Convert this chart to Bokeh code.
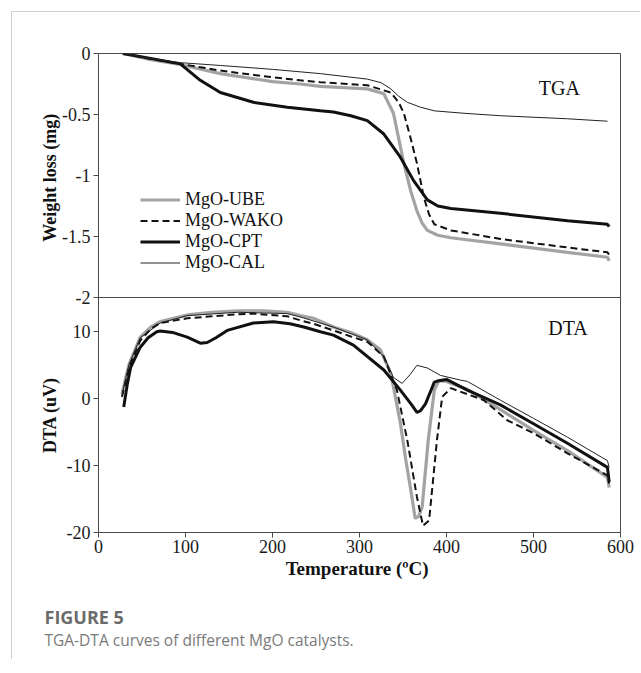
from bokeh.plotting import figure
from bokeh.models import Range1d, FixedTicker, Legend, LegendItem, Label, LinearAxis
from bokeh.layouts import column
from bokeh.embed import file_html
from bokeh.resources import INLINE

# ---------------- data ----------------
series_names = ["MgO-UBE", "MgO-WAKO", "MgO-CPT", "MgO-CAL"]

# TGA (weight loss, mg) vs temperature (C)
tga_ube_t = [28, 60, 94, 140, 200, 232, 255, 309, 328, 339, 351, 359, 366, 372, 378, 390, 405, 462, 539, 585, 587]
tga_ube_w = [0, -0.05, -0.09, -0.165, -0.23, -0.25, -0.27, -0.29, -0.33, -0.49, -0.90, -1.13, -1.29, -1.39, -1.45, -1.49, -1.51, -1.56, -1.63, -1.67, -1.70]

tga_wako_t = [28, 60, 94, 140, 200, 232, 255, 309, 336, 345, 351, 359, 366, 374, 380, 386, 405, 462, 539, 585, 587]
tga_wako_w = [0, -0.045, -0.085, -0.14, -0.195, -0.22, -0.235, -0.26, -0.32, -0.40, -0.49, -0.70, -0.90, -1.18, -1.32, -1.40, -1.45, -1.52, -1.59, -1.63, -1.65]

tga_cpt_t = [28, 60, 94, 117, 140, 178, 217, 255, 270, 290, 309, 328, 347, 362, 378, 390, 405, 462, 539, 585, 587]
tga_cpt_w = [0, -0.04, -0.085, -0.22, -0.32, -0.40, -0.44, -0.47, -0.48, -0.51, -0.55, -0.66, -0.85, -1.04, -1.20, -1.25, -1.27, -1.31, -1.37, -1.40, -1.42]

tga_cal_t = [28, 60, 94, 140, 200, 255, 309, 325, 336, 345, 355, 370, 386, 420, 462, 539, 585]
tga_cal_w = [0, -0.04, -0.075, -0.098, -0.13, -0.165, -0.21, -0.24, -0.29, -0.35, -0.40, -0.44, -0.47, -0.49, -0.51, -0.535, -0.555]

# DTA (uV) vs temperature (C)
dta_ube_t = [27, 35, 48, 60, 71, 102, 130, 160, 190, 217, 232, 247, 270, 290, 309, 324, 336, 347, 353, 359, 364, 368, 372, 379, 386, 391, 400, 424, 462, 500, 539, 585, 587]
dta_ube_v = [0.7, 5.0, 9.1, 10.6, 11.4, 12.4, 12.8, 13.0, 13.0, 12.8, 12.3, 11.9, 10.6, 9.8, 8.7, 7.2, 3.7, -3.7, -9.0, -13.7, -17.9, -17.6, -16.2, -6.3, 1.2, 2.6, 2.5, 1.3, -1.7, -4.8, -7.8, -11.8, -13.3]

dta_wako_t = [27, 35, 48, 60, 71, 102, 130, 160, 178, 217, 232, 247, 270, 290, 309, 328, 343, 355, 366, 373, 380, 389, 395, 405, 443, 470, 500, 539, 585, 587]
dta_wako_v = [0.2, 4.5, 8.6, 10.3, 11.2, 11.9, 12.2, 12.5, 12.6, 12.2, 11.6, 11.1, 10.1, 9.2, 8.4, 6.2, 1.2, -6.3, -14.7, -19.0, -18.2, -6.3, 0.2, 1.5, -0.3, -3.3, -5.2, -8.2, -11.5, -12.7]

dta_cpt_t = [29, 33, 37, 48, 57, 67, 71, 85, 102, 117, 125, 135, 148, 178, 201, 220, 236, 255, 270, 293, 328, 347, 360, 366, 370, 376, 386, 391, 400, 424, 462, 500, 539, 585, 587]
dta_cpt_v = [-1.3, 2.0, 4.6, 7.6, 9.0, 9.9, 10.0, 9.8, 9.1, 8.2, 8.3, 9.0, 10.1, 11.2, 11.4, 11.1, 10.6, 9.9, 9.4, 7.9, 4.2, 1.2, -1.0, -2.1, -1.9, -0.8, 2.4, 2.6, 2.8, 1.2, -1.0, -3.8, -6.7, -10.3, -12.5]

dta_cal_t = [27, 35, 48, 71, 102, 160, 217, 232, 270, 309, 328, 339, 349, 358, 366, 378, 393, 416, 424, 462, 500, 539, 585, 587]
dta_cal_v = [0.5, 5.0, 9.0, 11.2, 12.3, 12.8, 12.6, 12.1, 10.6, 8.7, 6.2, 3.1, 2.2, 3.5, 4.9, 4.5, 3.4, 2.7, 2.5, -0.3, -3.0, -5.8, -9.3, -10.3]

x_ticks = [0, 100, 200, 300, 400, 500, 600]
x_tick_labels = ["0", "100", "200", "300", "400", "500", "600"]
tga_ticks = [0, -0.5, -1, -1.5, -2]
tga_tick_labels = ["0", "-0.5", "-1", "-1.5", "-2"]
dta_ticks = [10, 0, -10, -20]
dta_tick_labels = ["10", "0", "-10", "-20"]

# ---------------- styles ----------------
SERIF = "Liberation Serif"
AX = "#4a4a4a"
styles = {
    "MgO-UBE": dict(line_color="#a3a3a3", line_width=3.2),
    "MgO-WAKO": dict(line_color="#111111", line_width=2.0, line_dash="7 4"),
    "MgO-CPT": dict(line_color="#111111", line_width=3.0),
    "MgO-CAL": dict(line_color="#222222", line_width=1.0),
}

FW = 522
OVER = 10


def style_y(axis, ticks, labels, standoff):
    axis.ticker = FixedTicker(ticks=ticks)
    axis.major_label_overrides = {float(t): l for t, l in zip(ticks, labels)}
    axis.major_label_text_font = SERIF
    axis.major_label_text_font_size = "18px"
    axis.major_label_text_color = "#1a1a1a"
    axis.axis_label_text_font = SERIF
    axis.axis_label_text_font_style = "bold"
    axis.axis_label_text_font_size = "18px"
    axis.axis_label_text_color = "#111111"
    axis.axis_line_color = AX
    axis.major_tick_line_color = AX
    axis.major_tick_in = 0
    axis.major_tick_out = 5
    axis.minor_tick_line_color = None
    axis.major_label_standoff = 3
    axis.axis_label_standoff = standoff


# ---------------- TGA panel ----------------
p1 = figure(frame_width=FW, frame_height=244, x_range=Range1d(0, 600), y_range=Range1d(-2, 0),
            output_backend="svg", toolbar_location=None, x_axis_location=None,
            min_border_left=86, min_border_top=41, min_border_bottom=OVER, min_border_right=20,
            background_fill_color="white", border_fill_color="white")
p1.grid.visible = False
p1.outline_line_color = AX
p1.yaxis.axis_label = "Weight  loss (mg)"
style_y(p1.yaxis[0], tga_ticks, tga_tick_labels, -1)

r_ube = p1.line(tga_ube_t, tga_ube_w, **styles["MgO-UBE"])
r_wako = p1.line(tga_wako_t, tga_wako_w, **styles["MgO-WAKO"])
r_cpt = p1.line(tga_cpt_t, tga_cpt_w, **styles["MgO-CPT"])
r_cal = p1.line(tga_cal_t, tga_cal_w, **styles["MgO-CAL"])

legend = Legend(items=[LegendItem(label=n, renderers=[r]) for n, r in
                       zip(series_names, [r_ube, r_wako, r_cpt, r_cal])],
                location=(42, 24), padding=0, margin=0, spacing=0,
                glyph_width=40, glyph_height=21, label_height=21, label_standoff=5,
                label_text_font=SERIF, label_text_font_size="18px", label_text_color="#111111",
                border_line_color=None, background_fill_alpha=0)
p1.add_layout(legend)
p1.add_layout(Label(x=506, y=-0.279, text="TGA", text_font=SERIF, text_font_size="20px",
                    text_baseline="middle", text_color="#111111"))

# ---------------- DTA panel ----------------
p2 = figure(frame_width=FW, frame_height=235, x_range=p1.x_range, y_range=Range1d(-20, 15),
            output_backend="svg", toolbar_location=None,
            min_border_left=86, min_border_top=0, min_border_bottom=40, min_border_right=20,
            background_fill_alpha=0, border_fill_alpha=0, margin=(-OVER, 0, 0, 0))
p2.grid.visible = False
p2.outline_line_color = None
p2.yaxis.axis_label = "DTA (uV)"
style_y(p2.yaxis[0], dta_ticks, dta_tick_labels, 4)

xa = p2.xaxis[0]
xa.ticker = FixedTicker(ticks=x_ticks)
xa.major_label_overrides = {float(t): l for t, l in zip(x_ticks, x_tick_labels)}
xa.major_label_text_font = SERIF
xa.major_label_text_font_size = "18px"
xa.major_label_text_color = "#1a1a1a"
xa.axis_label = "Temperature  (ºC)"
xa.axis_label_text_font = SERIF
xa.axis_label_text_font_style = "bold"
xa.axis_label_text_font_size = "19px"
xa.axis_label_text_color = "#111111"
xa.axis_line_color = AX
xa.major_tick_line_color = AX
xa.major_tick_in = 0
xa.major_tick_out = 5
xa.minor_tick_line_color = None
xa.major_label_standoff = 2
xa.axis_label_standoff = 2

right_axis = LinearAxis(ticker=FixedTicker(ticks=[]), major_label_text_font_size="0px",
                        major_tick_out=0, major_tick_in=0, minor_tick_out=0, minor_tick_in=0,
                        axis_line_color=AX)
p2.add_layout(right_axis, "right")

for t, v, n in [(dta_ube_t, dta_ube_v, "MgO-UBE"), (dta_wako_t, dta_wako_v, "MgO-WAKO"),
                (dta_cpt_t, dta_cpt_v, "MgO-CPT"), (dta_cal_t, dta_cal_v, "MgO-CAL")]:
    p2.line(t, v, **styles[n])

p2.add_layout(Label(x=517, y=10.5, text="DTA", text_font=SERIF, text_font_size="20px",
                    text_baseline="middle", text_color="#111111"))

# ---------------- caption ----------------
p3 = figure(width=628, height=78, x_range=Range1d(0, 1), y_range=Range1d(0, 1),
            output_backend="svg", toolbar_location=None, x_axis_location=None,
            y_axis_location=None, min_border=0, min_border_left=0, min_border_right=0,
            min_border_top=0, min_border_bottom=0, outline_line_color=None,
            background_fill_color="white", border_fill_color="white", frame_align=False)
p3.grid.visible = False
p3.add_layout(Label(x=32, y=43, x_units="screen", y_units="screen", text="FIGURE 5",
                    text_font="Open Sans", text_font_size="18px", text_font_style="bold",
                    text_color="#6b6b6b", text_baseline="alphabetic"))
p3.add_layout(Label(x=32, y=20, x_units="screen", y_units="screen",
                    text="TGA-DTA curves of different MgO catalysts.",
                    text_font="Open Sans", text_font_size="15.5px",
                    text_color="#7a7a7a", text_baseline="alphabetic"))

layout = column(p1, p2, p3, spacing=0, margin=(11, 0, 0, 11),
                styles={"border-top": "1px solid #cfcfcf", "border-left": "1px solid #cfcfcf"})

open("out.html", "w").write(file_html(layout, INLINE, title="TGA-DTA"))
